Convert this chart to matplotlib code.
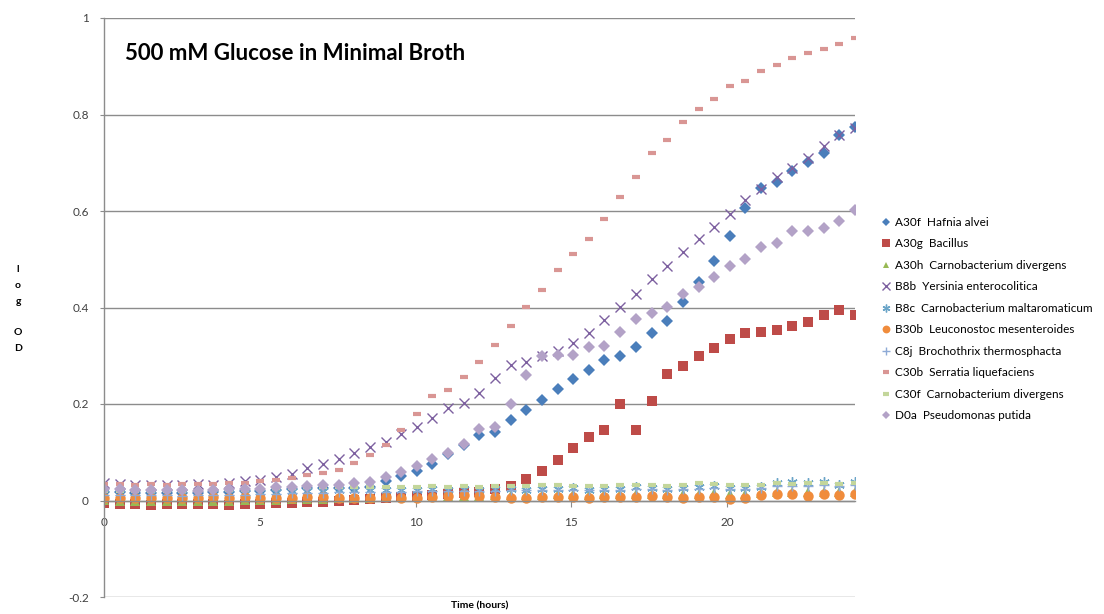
import numpy as np
import matplotlib
matplotlib.use("Agg")
import matplotlib.pyplot as plt

plt.rcParams['font.family'] = ['Lato', 'DejaVu Sans']

time_h = [0.0, 0.5, 1.0, 1.51, 2.01, 2.51, 3.01, 3.51, 4.02, 4.52, 5.02, 5.52, 6.02, 6.53,
          7.03, 7.53, 8.03, 8.53, 9.04, 9.54, 10.04, 10.54, 11.04, 11.55, 12.05, 12.55,
          13.05, 13.55, 14.06, 14.56, 15.06, 15.56, 16.06, 16.57, 17.07, 17.57, 18.07,
          18.57, 19.08, 19.58, 20.08, 20.58, 21.08, 21.59, 22.09, 22.59, 23.09, 23.59, 24.1]

labels = ["A30f  Hafnia alvei", "A30g  Bacillus", "A30h  Carnobacterium divergens",
          "B8b  Yersinia enterocolitica", "B8c  Carnobacterium maltaromaticum",
          "B30b  Leuconostoc mesenteroides", "C8j  Brochothrix thermosphacta",
          "C30b  Serratia liquefaciens", "C30f  Carnobacterium divergens",
          "D0a  Pseudomonas putida"]

a30f = [0.018, 0.017, 0.016, 0.016, 0.015, 0.016, 0.016, 0.017, 0.018, 0.019,
        0.020, 0.022, 0.024, 0.025, 0.025, 0.026, 0.025, 0.029, 0.040, 0.050,
        0.062, 0.076, 0.096, 0.116, 0.135, 0.143, 0.166, 0.188, 0.209, 0.232,
        0.252, 0.271, 0.292, 0.300, 0.319, 0.347, 0.371, 0.411, 0.453, 0.496,
        0.549, 0.606, 0.647, 0.661, 0.682, 0.702, 0.720, 0.758, 0.775]
a30g = [-0.005, -0.007, -0.008, -0.009, -0.008, -0.007, -0.007, -0.008, -0.009, -0.008,
        -0.007, -0.006, -0.005, -0.004, -0.003, -0.001, 0.001, 0.003, 0.005, 0.007,
        0.009, 0.011, 0.013, 0.015, 0.018, 0.024, 0.030, 0.045, 0.061, 0.083,
        0.108, 0.132, 0.147, 0.199, 0.146, 0.207, 0.262, 0.279, 0.300, 0.316,
        0.334, 0.347, 0.349, 0.353, 0.362, 0.370, 0.385, 0.395, 0.385]
a30h = [0.001, 0.000, -0.001, -0.002, -0.001, -0.002, -0.001, 0.000, 0.000, 0.001,
        0.001, 0.002, 0.003, 0.004, 0.004, 0.005, 0.006, 0.006, 0.007, 0.007,
        0.008, 0.008, 0.009, 0.010, 0.010, 0.011, 0.011, 0.012, 0.012, 0.013,
        0.013, 0.012, 0.013, 0.013, 0.014, 0.013, 0.014, 0.013, 0.014, 0.015,
        0.014, 0.014, 0.016, 0.017, 0.018, 0.017, 0.018, 0.017, 0.018]
b8b = [0.036, 0.034, 0.033, 0.032, 0.033, 0.032, 0.034, 0.033, 0.036, 0.040,
       0.042, 0.049, 0.055, 0.068, 0.076, 0.086, 0.098, 0.110, 0.122, 0.138,
       0.153, 0.170, 0.191, 0.202, 0.223, 0.254, 0.281, 0.288, 0.300, 0.309,
       0.326, 0.347, 0.374, 0.402, 0.429, 0.460, 0.485, 0.516, 0.541, 0.567,
       0.594, 0.622, 0.646, 0.670, 0.689, 0.710, 0.734, 0.758, 0.772]
b8c = [0.016, 0.015, 0.015, 0.014, 0.015, 0.014, 0.015, 0.015, 0.016, 0.016,
       0.017, 0.018, 0.019, 0.020, 0.020, 0.021, 0.021, 0.022, 0.022, 0.022,
       0.022, 0.023, 0.022, 0.023, 0.022, 0.023, 0.023, 0.022, 0.023, 0.024,
       0.026, 0.022, 0.023, 0.023, 0.027, 0.026, 0.023, 0.026, 0.028, 0.030,
       0.026, 0.026, 0.029, 0.037, 0.038, 0.037, 0.038, 0.033, 0.038]
b30b = [0.006, 0.006, 0.005, 0.005, 0.005, 0.005, 0.006, 0.007, 0.006, 0.007,
        0.006, 0.006, 0.006, 0.007, 0.007, 0.006, 0.006, 0.006, 0.007, 0.006,
        0.006, 0.008, 0.010, 0.012, 0.010, 0.008, 0.005, 0.006, 0.008, 0.008,
        0.008, 0.005, 0.007, 0.007, 0.008, 0.009, 0.008, 0.005, 0.007, 0.008,
        0.004, 0.005, 0.012, 0.013, 0.013, 0.010, 0.013, 0.012, 0.014]
c8j = [0.012, 0.012, 0.011, 0.011, 0.011, 0.010, 0.011, 0.011, 0.012, 0.012,
       0.013, 0.014, 0.015, 0.016, 0.016, 0.017, 0.017, 0.018, 0.018, 0.018,
       0.019, 0.019, 0.019, 0.020, 0.020, 0.020, 0.021, 0.021, 0.021, 0.022,
       0.022, 0.021, 0.022, 0.022, 0.023, 0.023, 0.022, 0.023, 0.024, 0.025,
       0.024, 0.024, 0.026, 0.030, 0.031, 0.031, 0.032, 0.030, 0.032]
c30b = [0.035, 0.034, 0.033, 0.034, 0.033, 0.034, 0.034, 0.035, 0.036, 0.037,
        0.040, 0.043, 0.047, 0.052, 0.057, 0.064, 0.077, 0.095, 0.115, 0.146,
        0.179, 0.216, 0.230, 0.255, 0.288, 0.323, 0.361, 0.401, 0.437, 0.478,
        0.510, 0.541, 0.584, 0.629, 0.671, 0.720, 0.747, 0.784, 0.812, 0.833,
        0.859, 0.870, 0.891, 0.903, 0.918, 0.927, 0.936, 0.946, 0.958]
c30f = [0.020, 0.020, 0.019, 0.019, 0.020, 0.019, 0.020, 0.021, 0.022, 0.022,
        0.023, 0.025, 0.026, 0.027, 0.027, 0.028, 0.028, 0.029, 0.028, 0.029,
        0.027, 0.030, 0.029, 0.030, 0.029, 0.031, 0.030, 0.031, 0.032, 0.033,
        0.031, 0.031, 0.031, 0.032, 0.032, 0.032, 0.031, 0.033, 0.036, 0.035,
        0.032, 0.033, 0.032, 0.036, 0.035, 0.036, 0.036, 0.034, 0.037]
d0a = [0.024, 0.023, 0.021, 0.021, 0.022, 0.021, 0.019, 0.022, 0.024, 0.024,
       0.024, 0.028, 0.028, 0.031, 0.033, 0.033, 0.036, 0.039, 0.048, 0.059,
       0.072, 0.086, 0.099, 0.117, 0.148, 0.153, 0.201, 0.260, 0.300, 0.301,
       0.302, 0.318, 0.320, 0.349, 0.376, 0.388, 0.402, 0.429, 0.442, 0.463,
       0.487, 0.501, 0.526, 0.533, 0.558, 0.558, 0.564, 0.580, 0.603]

series = [a30f, a30g, a30h, b8b, b8c, b30b, c8j, c30b, c30f, d0a]
for s in series:
    assert len(s) == len(time_h)

styles = [
    dict(marker='D', color='#4A7EBB', ms=6.0, mew=0),
    dict(marker='s', color='#BE4B48', ms=7.5, mew=0),
    dict(marker='^', color='#98B954', ms=6.5, mew=0),
    dict(marker='x', color='#7D60A0', ms=7.0, mew=1.0),
    dict(marker=(6, 2, 0), color='#6BA5C8', ms=7.5, mew=1.0),
    dict(marker='o', color='#F08C3C', ms=7.5, mew=0),
    dict(marker='+', color='#8EAAD6', ms=7.5, mew=1.0),
    dict(marker='_', color='#D99694', ms=6.0, mew=3.0),
    dict(marker='_', color='#C3D69B', ms=6.0, mew=3.0),
    dict(marker='D', color='#B3A2C7', ms=6.0, mew=0),
]

fig = plt.figure(figsize=(11.04, 6.14), dpi=100)
ax = fig.add_axes([104 / 1104, 1 - 597 / 614, (855 - 104) / 1104, (597 - 18) / 614])

handles = []
for s, st, lab in zip(series, styles, labels):
    h, = ax.plot(time_h, s, linestyle='none', marker=st['marker'], color=st['color'],
                 markersize=st['ms'], markeredgewidth=st['mew'], label=lab)
    handles.append(h)

ax.set_xlim(0, 24.1)
ax.set_ylim(-0.2, 1.0)
yt = [-0.2, 0, 0.2, 0.4, 0.6, 0.8, 1.0]
ax.set_yticks(yt)
ax.set_yticklabels(['-0.2', '0', '0.2', '0.4', '0.6', '0.8', '1'])
ax.set_xticks([0, 5, 10, 15, 20])
ax.set_xticklabels(['0', '5', '10', '15', '20'])

gridc = '#8C8C8C'
ax.grid(axis='y', color=gridc, linewidth=1.0)
ax.grid(axis='x', visible=False)
ax.set_axisbelow(True)
for sp in ['top', 'right']:
    ax.spines[sp].set_visible(False)
ax.spines['bottom'].set_position(('data', 0))
ax.spines['bottom'].set_color(gridc)
ax.spines['left'].set_color(gridc)
ax.spines['bottom'].set_linewidth(1.0)
ax.spines['left'].set_linewidth(1.0)
ax.tick_params(axis='both', colors=gridc, labelcolor='#404040', labelsize=8.5)
ax.tick_params(axis='x', direction='out', length=4, pad=8)
ax.tick_params(axis='y', direction='out', length=3, pad=8)

fig.text(125 / 1104, 1 - 53 / 614, "500 mM Glucose in Minimal Broth", fontsize=16,
         fontweight='bold', ha='left', va='center', color='black')
fig.text(480 / 1104, 1 - 606 / 614, "Time (hours)", fontsize=7.5, fontweight='bold',
         ha='center', va='center', color='black')
fig.text(18 / 1104, 1 - 309 / 614, "l\no\ng\n\nO\nD", fontsize=7.5, fontweight='bold',
         ha='center', va='center', color='black', linespacing=1.95)

leg = fig.legend(handles=handles, loc='upper left', bbox_to_anchor=(877 / 1104, 1 - 212 / 614),
                 frameon=False, fontsize=8.5, labelspacing=0.89, handlelength=0.7,
                 handletextpad=0.4, borderaxespad=0, markerscale=0.75)

fig.savefig("out.png", dpi=100)
